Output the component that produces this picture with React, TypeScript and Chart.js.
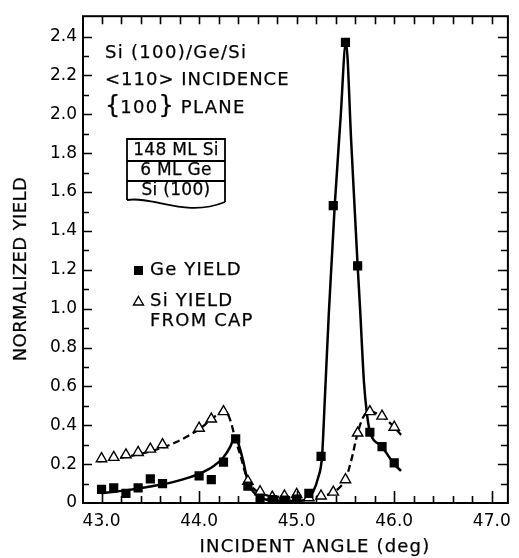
import React, { useEffect, useRef } from "react";
import { Chart, registerables } from "chart.js";

Chart.register(...registerables);

// ---- data ----
const geAngles = [43.0, 43.125, 43.25, 43.375, 43.5, 43.625, 44.0, 44.125, 44.25, 44.375, 44.5, 44.625, 44.75, 44.875, 45.0, 45.125, 45.25, 45.375, 45.5, 45.625, 45.75, 45.875, 46.0];
const geYield = [0.07, 0.078, 0.05, 0.078, 0.124, 0.10, 0.14, 0.12, 0.21, 0.33, 0.087, 0.025, 0.018, 0.015, 0.02, 0.05, 0.24, 1.53, 2.37, 1.22, 0.364, 0.29, 0.206];

const siAngles = [43.0, 43.125, 43.25, 43.375, 43.5, 43.625, 44.0, 44.125, 44.25, 44.5, 44.625, 44.75, 44.875, 45.0, 45.125, 45.25, 45.375, 45.5, 45.625, 45.75, 45.875, 46.0];
const siYield = [0.228, 0.235, 0.248, 0.26, 0.277, 0.30, 0.385, 0.432, 0.47, 0.112, 0.058, 0.03, 0.036, 0.044, 0.027, 0.036, 0.056, 0.12, 0.36, 0.47, 0.447, 0.39];

// hand-drawn guide curves
const geCurveX = [43.0, 43.25, 43.5, 43.75, 44.0, 44.15, 44.25, 44.32, 44.37, 44.40, 44.45, 44.5, 44.56, 44.63, 44.7, 44.85, 45.0, 45.1, 45.17, 45.22, 45.26, 45.29, 45.33, 45.39, 45.45, 45.505, 45.56, 45.625, 45.65, 45.69, 45.72, 45.75, 45.875, 46.0, 46.07];
const geCurveY = [0.05, 0.065, 0.085, 0.11, 0.15, 0.19, 0.235, 0.29, 0.345, 0.31, 0.22, 0.11, 0.055, 0.03, 0.015, 0.01, 0.01, 0.02, 0.06, 0.13, 0.24, 0.55, 0.98, 1.53, 1.98, 2.37, 1.85, 1.22, 1.0, 0.62, 0.46, 0.37, 0.29, 0.20, 0.165];

const siCurveX = [42.97, 43.25, 43.5, 43.75, 44.0, 44.125, 44.25, 44.29, 44.33, 44.37, 44.42, 44.5, 44.58, 44.65, 44.75, 45.0, 45.25, 45.375, 45.45, 45.5, 45.56, 45.625, 45.68, 45.75, 45.875, 46.0, 46.07];
const siCurveY = [0.214, 0.238, 0.265, 0.31, 0.38, 0.43, 0.47, 0.46, 0.41, 0.33, 0.25, 0.115, 0.065, 0.045, 0.035, 0.03, 0.035, 0.055, 0.085, 0.12, 0.22, 0.36, 0.44, 0.47, 0.445, 0.39, 0.35];

const xTickValues = [43, 44, 45, 46, 47];
const xTickLabels = ["43.0", "44.0", "45.0", "46.0", "47.0"];
const yTickValues = [0, 0.2, 0.4, 0.6, 0.8, 1.0, 1.2, 1.4, 1.6, 1.8, 2.0, 2.2, 2.4];
const yTickLabels = ["0", "0.2", "0.4", "0.6", "0.8", "1.0", "1.2", "1.4", "1.6", "1.8", "2.0", "2.2", "2.4"];

const xTitle = "INCIDENT ANGLE (deg)";
const yTitle = "NORMALIZED YIELD";
const noteLines = ["Si (100)/Ge/Si", "<110> INCIDENCE"];
const planeText = ["{", "100", "}", " PLANE"];
const layerLabels = ["148 ML Si", "6 ML Ge", "Si (100)"];
const legendGe = "Ge YIELD";
const legendSi = ["Si YIELD", "FROM CAP"];

const FONT = '"DejaVu Sans", sans-serif';

function pts(xs: number[], ys: number[]) {
  return xs.map((x, i) => ({ x, y: ys[i] }));
}

function spacedText(ctx: CanvasRenderingContext2D, text: string, x: number, y: number, size: number, spacing: number, align: CanvasTextAlign = "left") {
  ctx.font = `${size}px ${FONT}`;
  (ctx as any).letterSpacing = `${spacing}px`;
  ctx.textAlign = align;
  ctx.textBaseline = "middle";
  ctx.lineWidth = 0.25;
  ctx.fillText(text, x, y);
  ctx.strokeText(text, x, y);
  return ctx.measureText(text).width;
}

const framePlugin = {
  id: "frameTicks",
  afterDatasetsDraw(chart: any) {
    const { ctx, chartArea: a, scales } = chart;
    const x = scales.x;
    const y = scales.y;
    ctx.save();
    ctx.strokeStyle = "#000";
    ctx.lineWidth = 2;
    ctx.strokeRect(a.left, a.top, a.right - a.left, a.bottom - a.top);
    ctx.lineWidth = 1.6;
    ctx.beginPath();
    for (let i = 0; i <= 22; i++) {
      const v = 42.8 + i * 0.2;
      if (v < x.min + 0.05 || v > x.max - 0.05) continue;
      const px = Math.round(x.getPixelForValue(v)) + 0.5;
      const major = Math.abs(v - Math.round(v)) < 1e-6;
      ctx.moveTo(px, a.bottom);
      ctx.lineTo(px, a.bottom - (major ? 12 : 7));
      ctx.moveTo(px, a.top);
      ctx.lineTo(px, a.top + 8);
    }
    for (let i = 1; i <= 24; i++) {
      const v = i * 0.1;
      const py = Math.round(y.getPixelForValue(v)) + 0.5;
      const major = i % 2 === 0;
      ctx.moveTo(a.left, py);
      ctx.lineTo(a.left + (major ? 9 : 6), py);
      ctx.moveTo(a.right, py);
      ctx.lineTo(a.right - (major ? 10 : 7), py);
    }
    ctx.stroke();
    ctx.restore();
  },
};

const textPlugin = {
  id: "texts",
  afterDraw(chart: any) {
    const { ctx } = chart;
    ctx.save();
    ctx.fillStyle = "#000";
    ctx.strokeStyle = "#000";

    // axis titles
    spacedText(ctx, xTitle, 315, 547, 18, 1.2, "center");
    ctx.save();
    ctx.translate(21, 269);
    ctx.rotate(-Math.PI / 2);
    spacedText(ctx, yTitle, 0, 0, 18, 0.4, "center");
    ctx.restore();

    // notes
    spacedText(ctx, noteLines[0], 105, 53, 18, 1.3);
    spacedText(ctx, noteLines[1], 105, 80, 18, 1.0);
    let cx = 105;
    cx += spacedText(ctx, planeText[0], cx, 107, 24, 0);
    cx += spacedText(ctx, planeText[1], cx, 108, 18, 1.3);
    cx += spacedText(ctx, planeText[2], cx, 107, 24, 0);
    spacedText(ctx, planeText[3], cx, 108, 18, 1.3);

    // layer box
    ctx.lineWidth = 1.8;
    ctx.beginPath();
    ctx.moveTo(127, 200);
    ctx.lineTo(127, 139);
    ctx.lineTo(225, 139);
    ctx.lineTo(225, 202);
    ctx.moveTo(127, 200);
    ctx.bezierCurveTo(155, 196, 185, 218, 225, 202);
    ctx.moveTo(127, 161);
    ctx.lineTo(225, 161);
    ctx.moveTo(127, 181);
    ctx.lineTo(225, 181);
    ctx.stroke();
    spacedText(ctx, layerLabels[0], 176, 150.5, 17, 0.3, "center");
    spacedText(ctx, layerLabels[1], 176, 171, 17, 0.3, "center");
    spacedText(ctx, layerLabels[2], 176, 190.5, 17, 0.3, "center");

    // legend
    ctx.fillRect(134, 266, 9, 9);
    spacedText(ctx, legendGe, 150, 270, 18, 1.2);
    ctx.lineWidth = 1.4;
    ctx.beginPath();
    ctx.moveTo(138.5, 296.5);
    ctx.lineTo(143.5, 305);
    ctx.lineTo(133.5, 305);
    ctx.closePath();
    ctx.stroke();
    spacedText(ctx, legendSi[0], 150, 301, 18, 1.2);
    spacedText(ctx, legendSi[1], 150, 321, 18, 1.2);
    ctx.restore();
  },
};

export default function App() {
  const ref = useRef<HTMLCanvasElement | null>(null);

  useEffect(() => {
    const canvas = ref.current;
    if (!canvas) return;
    const chart = new Chart(canvas, {
      type: "scatter",
      data: {
        datasets: [
          {
            label: "Ge yield",
            data: pts(geAngles, geYield),
            showLine: false,
            pointStyle: "rect",
            pointRadius: 6.5,
            backgroundColor: "#000",
            borderColor: "#000",
            borderWidth: 0,
            order: 0,
          },
          {
            label: "Si yield from cap",
            data: pts(siAngles, siYield),
            showLine: false,
            pointStyle: "triangle",
            pointRadius: 6,
            backgroundColor: "#fff",
            borderColor: "#000",
            borderWidth: 1.4,
            order: 0,
          },
          {
            label: "Ge fit",
            data: pts(geCurveX, geCurveY),
            showLine: true,
            pointRadius: 0,
            borderColor: "#000",
            borderWidth: 2.5,
            cubicInterpolationMode: "monotone",
            order: 1,
          },
          {
            label: "Si fit",
            data: pts(siCurveX, siCurveY),
            showLine: true,
            pointRadius: 0,
            borderColor: "#000",
            borderWidth: 2.3,
            borderDash: [7, 4],
            cubicInterpolationMode: "monotone",
            order: 1,
          },
        ],
      },
      options: {
        responsive: false,
        animation: false,
        layout: { padding: { left: 0, right: 6, top: 12, bottom: 0 } },
        plugins: { legend: { display: false }, tooltip: { enabled: false }, title: { display: false } },
        scales: {
          x: {
            type: "linear",
            min: 42.81,
            max: 47.165,
            grid: { display: false, drawTicks: false },
            border: { display: false },
            afterBuildTicks: (s: any) => {
              s.ticks = xTickValues.map((v) => ({ value: v }));
            },
            afterFit: (s: any) => {
              s.height = 55;
            },
            ticks: {
              padding: 8,
              color: "#000",
              font: { family: FONT, size: 17 },
              maxRotation: 0,
              autoSkip: false,
              callback: (_v: any, i: number) => xTickLabels[i],
            },
          },
          y: {
            type: "linear",
            min: 0,
            max: 2.505,
            grid: { display: false, drawTicks: false },
            border: { display: false },
            afterBuildTicks: (s: any) => {
              s.ticks = yTickValues.map((v) => ({ value: v }));
            },
            afterFit: (s: any) => {
              s.width = 83;
            },
            ticks: {
              padding: 6,
              color: "#000",
              font: { family: FONT, size: 17 },
              autoSkip: false,
              callback: (_v: any, i: number) => yTickLabels[i],
            },
          },
        },
      },
      plugins: [framePlugin, textPlugin],
    });
    return () => chart.destroy();
  }, []);

  return (
    <div style={{ position: "absolute", left: 0, top: 0, width: 519, height: 558, background: "#fff" }}>
      <canvas ref={ref} width={519} height={558} style={{ display: "block" }} />
    </div>
  );
}
